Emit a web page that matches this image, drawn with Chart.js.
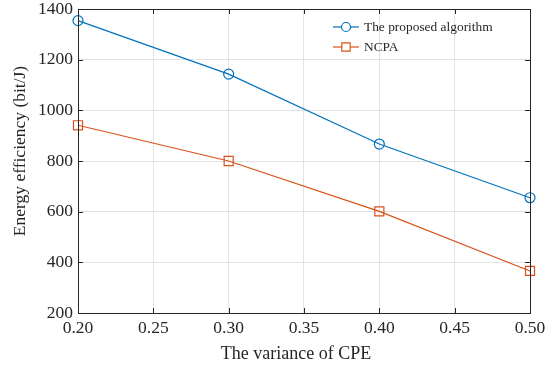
<!DOCTYPE html>
<html>
<head>
<meta charset="utf-8">
<script src="https://cdn.jsdelivr.net/npm/chart.js@4/dist/chart.umd.min.js"></script>
<style>
    html, body { margin: 0; padding: 0; background: #fff; }
    #wrap { width: 552px; height: 372px; }
</style>
</head>
<body>
<div id="wrap"><canvas id="chart" width="552" height="372"></canvas></div>
<script>
// 数据
const variance = [0.20, 0.30, 0.40, 0.50];
const proposed = [1354, 1143, 867, 655];
const ncpa = [941, 800, 601, 366];
const seriesNames = ['The proposed algorithm', 'NCPA'];
const xTicks = [0.20, 0.25, 0.30, 0.35, 0.40, 0.45, 0.50];
const yTicks = [200, 400, 600, 800, 1000, 1200, 1400];
const xTitle = 'The variance of CPE';
const yTitle = 'Energy efficiency (bit/J)';

const BLUE = '#0072BD';
const ORANGE = '#D95319';
const AXIS = '#262626';
const FONT = '"Liberation Serif", "Times New Roman", serif';

// 边框 + 向内刻度 + 轴标题 + 图例
const boxPlugin = {
    id: 'box',
    afterDraw(chart) {
        const { ctx, chartArea: a, scales } = chart;
        ctx.save();
        ctx.strokeStyle = AXIS;
        ctx.lineWidth = 1;
        ctx.strokeRect(a.left + 0.5, a.top + 0.5, a.right - a.left, a.bottom - a.top);
        const len = 5;
        ctx.beginPath();
        xTicks.forEach(v => {
            const x = Math.round(scales.x.getPixelForValue(v)) + 0.5;
            ctx.moveTo(x, a.bottom); ctx.lineTo(x, a.bottom - len);
            ctx.moveTo(x, a.top); ctx.lineTo(x, a.top + len);
        });
        yTicks.forEach(v => {
            const y = Math.round(scales.y.getPixelForValue(v)) + 0.5;
            ctx.moveTo(a.left, y); ctx.lineTo(a.left + len, y);
            ctx.moveTo(a.right, y); ctx.lineTo(a.right - len, y);
        });
        ctx.stroke();

        // 轴标题
        ctx.fillStyle = AXIS;
        ctx.textAlign = 'center';
        ctx.textBaseline = 'middle';
        ctx.font = '18px ' + FONT;
        ctx.fillText(xTitle, 296, 354);
        ctx.save();
        ctx.translate(20, 151);
        ctx.rotate(-Math.PI / 2);
        ctx.font = '17.5px ' + FONT;
        ctx.fillText(yTitle, 0, 0);
        ctx.restore();

        // 图例
        const lx = 333, ly = [27, 47];
        ctx.font = '13.4px ' + FONT;
        ctx.textAlign = 'left';
        chart.data.datasets.forEach((ds, i) => {
            const y = ly[i];
            ctx.strokeStyle = ds.borderColor;
            ctx.lineWidth = 1.2;
            ctx.beginPath();
            ctx.moveTo(lx, y); ctx.lineTo(lx + 26, y);
            ctx.stroke();
            ctx.fillStyle = '#fff';
            Chart.helpers.drawPoint(ctx, {
                pointStyle: ds.pointStyle, radius: ds.pointRadius - 0.5, borderWidth: 1.2
            }, lx + 13, y);
            ctx.fillStyle = AXIS;
            ctx.fillText(ds.label, lx + 31, y);
        });
        ctx.restore();
    }
};

new Chart(document.getElementById('chart'), {
    type: 'line',
    data: {
        datasets: [
            {
                label: seriesNames[0],
                data: variance.map((v, i) => ({ x: v, y: proposed[i] })),
                borderColor: BLUE,
                backgroundColor: 'rgba(0,0,0,0)',
                borderWidth: 1.2,
                pointStyle: 'circle',
                pointRadius: 5,
                pointBorderWidth: 1.2,
                tension: 0
            },
            {
                label: seriesNames[1],
                data: variance.map((v, i) => ({ x: v, y: ncpa[i] })),
                borderColor: ORANGE,
                backgroundColor: 'rgba(0,0,0,0)',
                borderWidth: 1.2,
                pointStyle: 'rect',
                pointRadius: 6.4,
                pointBorderWidth: 1.2,
                tension: 0
            }
        ]
    },
    options: {
        responsive: false,
        animation: false,
        clip: false,
        layout: { padding: { top: 9, right: 22, left: 0, bottom: 0 } },
        plugins: { legend: { display: false }, tooltip: { enabled: false } },
        scales: {
            x: {
                type: 'linear',
                min: 0.2,
                max: 0.5,
                afterBuildTicks: s => { s.ticks = xTicks.map(v => ({ value: v })); },
                afterFit: s => { s.height = 59; s.paddingLeft = 0; s.paddingRight = 0; },
                ticks: {
                    color: AXIS,
                    font: { family: FONT, size: 17.5 },
                    padding: 5,
                    maxRotation: 0,
                    callback: v => v.toFixed(2)
                },
                grid: { color: '#e3e3e3', drawTicks: false },
                border: { display: false }
            },
            y: {
                min: 200,
                max: 1400,
                afterBuildTicks: s => { s.ticks = yTicks.map(v => ({ value: v })); },
                afterFit: s => { s.width = 78; s.paddingTop = 0; s.paddingBottom = 0; },
                ticks: {
                    color: AXIS,
                    font: { family: FONT, size: 17.5 },
                    padding: 5,
                    callback: v => String(v)
                },
                grid: { color: '#e3e3e3', drawTicks: false },
                border: { display: false }
            }
        }
    },
    plugins: [boxPlugin]
});
</script>
</body>
</html>
